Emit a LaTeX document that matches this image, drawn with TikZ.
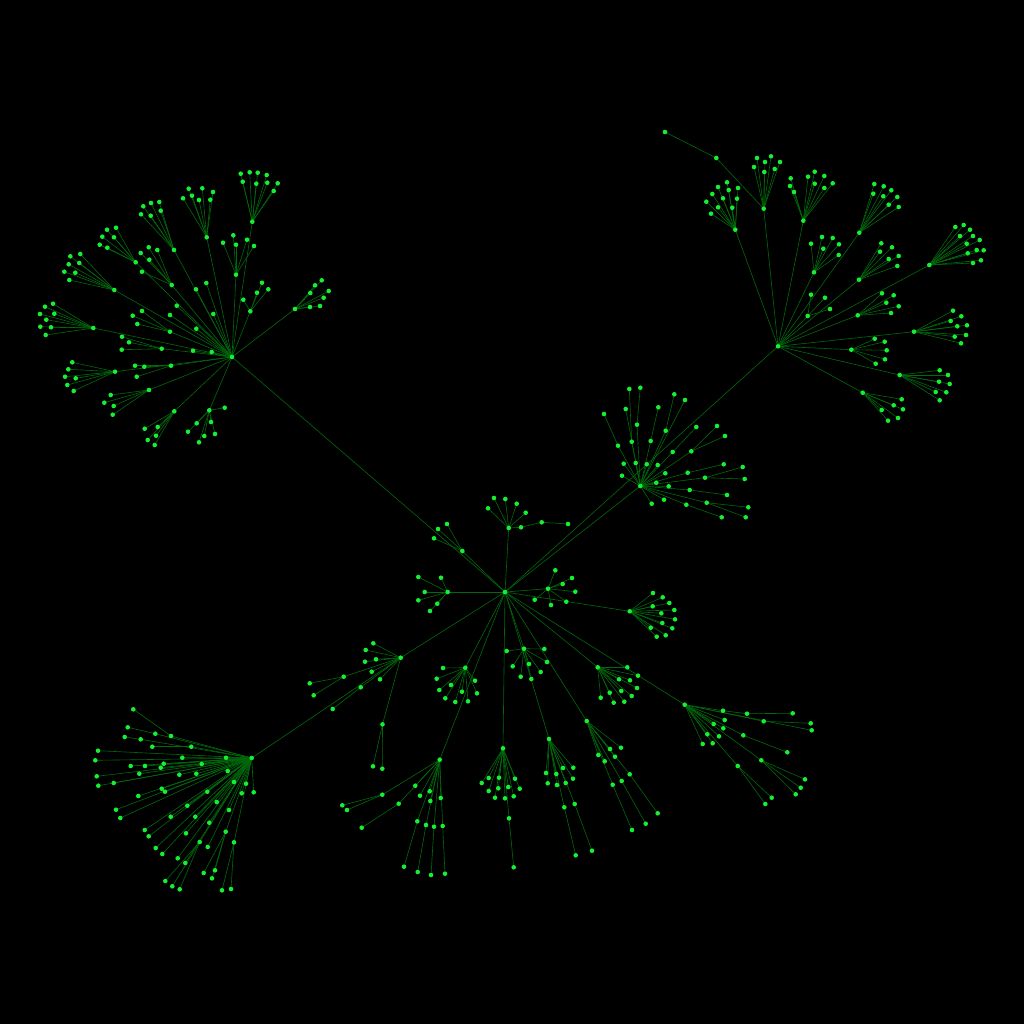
\documentclass[tikz,border=0pt]{standalone}
\usepackage{tikz}
\definecolor{dotc}{RGB}{20,240,50}
\definecolor{edgec}{RGB}{0,105,12}
\tikzset{dot/.style={circle,fill=dotc,inner sep=0pt,minimum size=4.6pt,draw=none},
 edge/.style={draw=edgec,line width=0.6pt}}
\newif\ifdots
\newcommand\hub[4]{\ifdots\node[dot] (n#1) at (#1) {};\else\coordinate (#1) at (#2,#3);\draw[edge] (#4) -- (#1);\fi}
\newcommand\leaves[2]{\foreach \px/\py [count=\i] in {#2} {\ifdots\node[dot] (n#1-\i) at (#1-\i) {};\else\coordinate (#1-\i) at (\px,\py);\draw[edge] (#1) -- (#1-\i);\fi}}
\newcommand\treedata{%
% ---------------- A
\hub{A}{232}{357}{C}
\hub{A1}{252.3}{221.7}{A}\leaves{A1}{240.7/173.7,249.7/172.3,257.7/172.7,266.7/175,242.7/181.7,256.3/183.7,267.3/182.7,277.7/183.3,273.7/191}
\hub{A2}{206.7}{237.3}{A}\leaves{A2}{188.7/188.7,202.3/188.3,213/192,183/198.3,192/195.7,199/200,210.3/199.7}
\hub{A3}{174}{250}{A}\leaves{A3}{143.3/206.3,151/203,159.3/202,141/214.3,150.7/215.7,160.7/210.7}
\hub{A4}{171.7}{285}{A}\leaves{A4}{148.7/247.3,157.3/250,140.7/253,149.3/259.7,142/271.7}
\hub{A5}{135.7}{262.3}{A}\leaves{A5}{107/229.7,116/227.7,102.3/236.7,114/237.3,99.7/244.7,107.3/247.7}
\hub{A6}{114.3}{290}{A}\leaves{A6}{70.3/256.3,80.3/254,68.7/264.3,79.3/263,64.3/271.7,75.3/272.7,69.3/280}
\hub{A7}{93.3}{328}{A}\leaves{A7}{53/303.7,45/306.7,54.3/313.7,40/314,46.3/319.7,40.3/326.7,51/327.3,45.7/335}
\hub{A8}{236}{274.7}{A}\leaves{A8}{223/242.7,233.3/235.3,236/244.7,247/239.7,254/246}
\hub{A9}{250.3}{311.3}{A}\leaves{A9}{243.3/299.7,257/292.7,262/282.7,268.3/289.3}
\hub{A10}{295}{309}{A}\leaves{A10}{321.7/280.3,315/285.3,328.7/291,310.3/293,323.7/297.7,310/307,320/306}
\leaves{A}{196/289.3,206.3/283,176.7/305.7,213.3/314,170/315,196.3/328.7,193/350.7,211.7/352}
\hub{A11}{170}{331.7}{A}\leaves{A11}{132.7/315.7,142/311,137.3/324}
\hub{A12}{161.7}{348.7}{A}\leaves{A12}{122/336.7,129/342.3,121.7/349.7}
\hub{A13}{115}{371.7}{A}\leaves{A13}{72.3/362.3,68.3/369.3,65/376.7,75.7/378.3,67.3/385,73.7/391}
\hub{A14}{171}{365.7}{A}\leaves{A14}{135/365.7,144.3/366.7,136.7/376.7}
\hub{A15}{149}{390}{A}\leaves{A15}{110.7/395,104.3/402.7,113.7/406,112.7/414.7}
\hub{A16}{174.3}{411.3}{A}\leaves{A16}{144.7/428.7,157.7/427,147.7/440,156/435.7,154.7/445}
\hub{A17}{209.3}{410.3}{A}\leaves{A17}{224.7/407.7,196.7/423.3,188/431.7,211/422,204.3/436,215/434,199/442.3}
% ---------------- B
\hub{B}{778}{346.3}{C}
\hub{B1}{763.7}{208.7}{B}\leaves{B1}{757/158,771/156.3,754/167,765/162,764.3/172,780/162,774.7/169}
\hub{B1a}{716.3}{158}{B1}\hub{B1b}{665}{132}{B1a}
\hub{B2}{735.3}{229.7}{B}\leaves{B2}{727/182.3,718/187,738/188,712.3/194,728.7/190,723/198.3,737/198.7,706.3/201.7,718/207.3,732.3/207.7,711/213.7}
\hub{B3}{803.3}{220.7}{B}\leaves{B3}{814.7/171.7,824.3/176,808/176.7,790.7/178.3,814.7/183.7,832.7/183.3,790/186,824.3/188,794/192}
\hub{B4}{859.3}{232.7}{B}\leaves{B4}{874.3/184,883.7/186.3,873.3/193.7,891.3/190.3,883.3/196.3,897.3/197,888.7/204.7,898.7/207}
\hub{B5}{929.3}{265}{B}\leaves{B5}{955.3/227,963.7/225,970/229.7,960/236,973/236,979.7/240,966.7/243.7,976.7/250,983.7/250.3,967.7/253.3,973/263,981/260.3}
\hub{B6}{814}{272.3}{B}\leaves{B6}{811/243.7,822/237,832.7/238,823.3/248.7,839/244.3,838.7/255}
\hub{B7}{859}{279.7}{B}\leaves{B7}{881.3/243.3,892/247.3,880/251.7,898.7/256,888.7/259,897.3/266}
\hub{B8}{807.7}{316}{B}\leaves{B8}{811/294.7,825/297.7,830/309}
\hub{B9}{857.7}{315.3}{B}\leaves{B9}{882/293.3,893.7/295.3,886.3/302.7,898.7/306.3,891/313}
\hub{B10}{914}{331.7}{B}\leaves{B10}{953/310.7,961.3/316.3,950.7/321,967/325.3,957.3/326.3,966/335,954.7/336.7,961/343.3}
\hub{B11}{851.3}{349.7}{B}\leaves{B11}{874.7/338.7,884.7/341.7,886.7/350.3,885/359.3,875.7/363.7}
\hub{B12}{899.7}{375}{B}\leaves{B12}{939.7/370.3,948/375,939/381.7,949.7/384,935.7/392,946.3/392.3,939.7/400.3}
\hub{B13}{862.7}{392.7}{B}\leaves{B13}{901.7/399.3,893.7/405.3,903/409.3,881.7/410,898/418,888/420.7}
% ---------------- D
\hub{D}{640.3}{486}{C}
\hub{D1}{618}{445.7}{D}\leaves{D1}{604/414}
\hub{D2}{631.7}{441.7}{D}\leaves{D2}{629.3/389}
\hub{D3}{637}{424.7}{D}\leaves{D3}{640.3/387.7}
\hub{D4}{665.7}{430.7}{D}\leaves{D4}{674.3/394.3}
\hub{D5}{650.7}{441}{D}\leaves{D5}{658.3/407.3}
\hub{D6}{691.3}{451.3}{D}\leaves{D6}{717/426,725/436}
\hub{D7}{672.7}{452}{D}\leaves{D7}{696.3/427}
\hub{D8}{687.7}{472.7}{D}\leaves{D8}{723.7/464.3}
\hub{D9}{705}{477.7}{D}\leaves{D9}{742.7/467,744.7/479}
\hub{D10}{689.7}{490}{D}\leaves{D10}{727/495}
\hub{D11}{706.7}{502.7}{D}\leaves{D11}{748.3/507.3,745.7/517.3}
\hub{D12}{686.3}{504.7}{D}\leaves{D12}{721.7/517.3}
\leaves{D}{685/400,625.7/409,623.7/463.7,635.7/463,646.7/464.3,657.7/465,622/475.7,665.3/473.3,656.3/482.7,668.7/486.3,651.7/503.7,664/499.7}
% ---------------- E F G H I
\hub{E}{508.7}{528}{C}\leaves{E}{494/498,505.3/499,488/508.3,516.7/503.7,525.7/512.7}
\hub{E1}{521}{527.3}{E}\hub{E2}{541.7}{522.3}{E1}\hub{E3}{568}{524}{E2}
\hub{F}{462.3}{551}{C}\leaves{F}{438/529,447/524,434/538.3}
\hub{G}{447.7}{592}{C}\leaves{G}{418.3/577,441/577.7,424.7/592,418.3/600.3,437.3/603.7,430/611}
\hub{H}{548}{588.7}{C}\leaves{H}{555.3/570.3,572/578,562.7/584,575.3/591.7,534.7/599.7,551/605,566.3/601.7}
\hub{I}{629.7}{611.3}{C}\leaves{I}{653/593,662.7/597.3,652.7/606.3,669.3/603,674.3/610,661.3/613.3,675/619.3,662.3/623,672.3/628.3,650.7/627.7,665.7/635.3,656.7/636.7}
% ---------------- J K
\hub{J}{400.7}{657.7}{C}\leaves{J}{373.3/643.3,365.7/650,365/661.7,376/659.3,371.7/671.7,380/679.3}
\hub{J1}{343.7}{676.7}{J}\leaves{J1}{309.7/683.3,313.7/695.3}
\hub{J2}{360.7}{687.3}{J}\hub{J3}{332.7}{709}{J2}
\hub{J4}{382.5}{724.3}{J}\leaves{J4}{373/766.3,382.3/768.7}
\hub{K}{251.7}{758}{J}
\hub{K1}{171}{736}{K}\leaves{K1}{133.3/709.3}
\hub{K2}{155.3}{733.7}{K}\leaves{K2}{127.7/727.3}
\hub{K3}{140.7}{739.3}{K}\leaves{K3}{124.7/737}
\hub{K4}{191.3}{746.7}{K}\leaves{K4}{152.3/746.7}
\hub{K5}{199.7}{842}{K}\leaves{K5}{165.3/881,172.3/886.3,179.7/889.3}
\hub{K6}{234}{842.3}{K}\leaves{K6}{222/890.3,231/889}
\hub{K7}{225.7}{831.7}{K}\leaves{K7}{203.7/873,215/870.3,212/878.3}
\leaves{K}{98/750.7,182.3/757.7,226/757.7,95.3/760.3,130.7/766,145/766,163.7/763.7,160.7/767.7,201.7/764,96.7/776.3,139.3/773.7,179.3/774.7,196.3/773.7,227.7/771,98.3/785.7,113.7/783,161.7/788.7,165/791.7,234/782,246/783.7,253.7/792.3,241.7/793.3,138.3/796,207.3/791.7,116/809.7,120.3/818,216.7/802,187.3/805.7,229/810,170.7/816.7,195.3/816.7,209.3/822.7,144.7/830,148.7/836.3,186/833.3,155.7/848,162.3/854,207.7/847,177.7/858.3,185.3/863}
% ---------------- L M N O
\hub{L}{465.3}{667.7}{C}\leaves{L}{443/668,436.7/678.7,451/685,439.3/690,462/691.7,475/680.7,445.3/698.3,455.3/702,468/701.3,477/693.3}
\hub{M}{524}{648.7}{C}\leaves{M}{506.7/651,544.3/649,512.7/666.3,529/664,547/662,520.7/676.7,540.7/672,531.3/679}
\hub{N}{439.7}{759.7}{C}\leaves{N}{415.3/785.7,420/795.7,429.7/791.3,430.3/801,440.7/798}
\hub{N1}{382.3}{794.7}{N}\leaves{N1}{342.3/805.3,347/810}
\hub{N2}{398.7}{803.7}{N}\leaves{N2}{361.7/827.7}
\hub{N3}{417.3}{821.3}{N}\leaves{N3}{404/866.7}
\hub{N4}{426}{825}{N}\leaves{N4}{417.7/872}
\hub{N5}{434}{826.7}{N}\leaves{N5}{431/875}
\hub{N6}{442.7}{826}{N}\leaves{N6}{445/873.7}
\hub{O}{503}{748.3}{C}\leaves{O}{481.7/783,488.7/778,499/777.7,515/778.7,488.7/791,498.3/788.3,508.3/787,519.7/788.7,495/797.7,505/798.3,513.7/796.3}
\hub{O1}{509}{818.3}{O}\hub{O2}{513.7}{867.3}{O1}
% ---------------- P Q R S
\hub{P}{549}{739}{C}\leaves{P}{546/773,556.3/774,563/768,573.3/767.7,547.7/783.3,557/785,565.7/783,573/778.7}
\hub{P1}{564.3}{807.3}{P}\leaves{P1}{575.7/855.3}
\hub{P2}{574.7}{804}{P}\leaves{P2}{592/850.7}
\hub{Q}{586.7}{721}{C}\leaves{Q}{610/749,621/747.7,598.3/755,604.7/761.3,615/756.7}
\hub{Q1}{629.7}{774.3}{Q}\leaves{Q1}{657.7/813.3}
\hub{Q2}{612.7}{784.7}{Q}\leaves{Q2}{632/830}
\hub{Q3}{621.7}{781}{Q}\leaves{Q3}{645.7/823.7}
\hub{R}{597.7}{667.3}{C}\leaves{R}{627.3/667.3,638/675.7,619/679.3,630/680.3,637/688,600.7/697.7,609.7/692.7,621.3/691,631.7/696,613.7/702.7,624.3/701.7}
\hub{S}{684.7}{704.7}{C}
\hub{S1}{723}{710.7}{S}\hub{S2}{747}{713.7}{S1}\hub{S3}{792.7}{713.3}{S2}
\hub{S4}{763.7}{721.3}{S}\leaves{S4}{810.7/723.3}
\leaves{S}{811.7/730.3,724.7/720,713.7/724,723.3/728.3,707.3/734.3,719/736.3,702.7/744,712.7/743.3}
\hub{S5}{743.3}{735.3}{S}\leaves{S5}{787.3/752.3}
\hub{S6}{761.3}{760.3}{S}\leaves{S6}{805/779.3,800.7/787.7,795.7/794.3}
\hub{S7}{737.7}{766}{S}\leaves{S7}{771.7/797.7,765.3/804}
}
\begin{document}
\begin{tikzpicture}[x=1pt,y=-1pt]
\useasboundingbox (0,0) rectangle (1024,1024);
\fill[black] (0,0) rectangle (1024,1024);
\coordinate (C) at (505,592);
\dotsfalse\treedata
\dotstrue\treedata
\node[dot] (nC) at (C) {};
\end{tikzpicture}
\end{document}
